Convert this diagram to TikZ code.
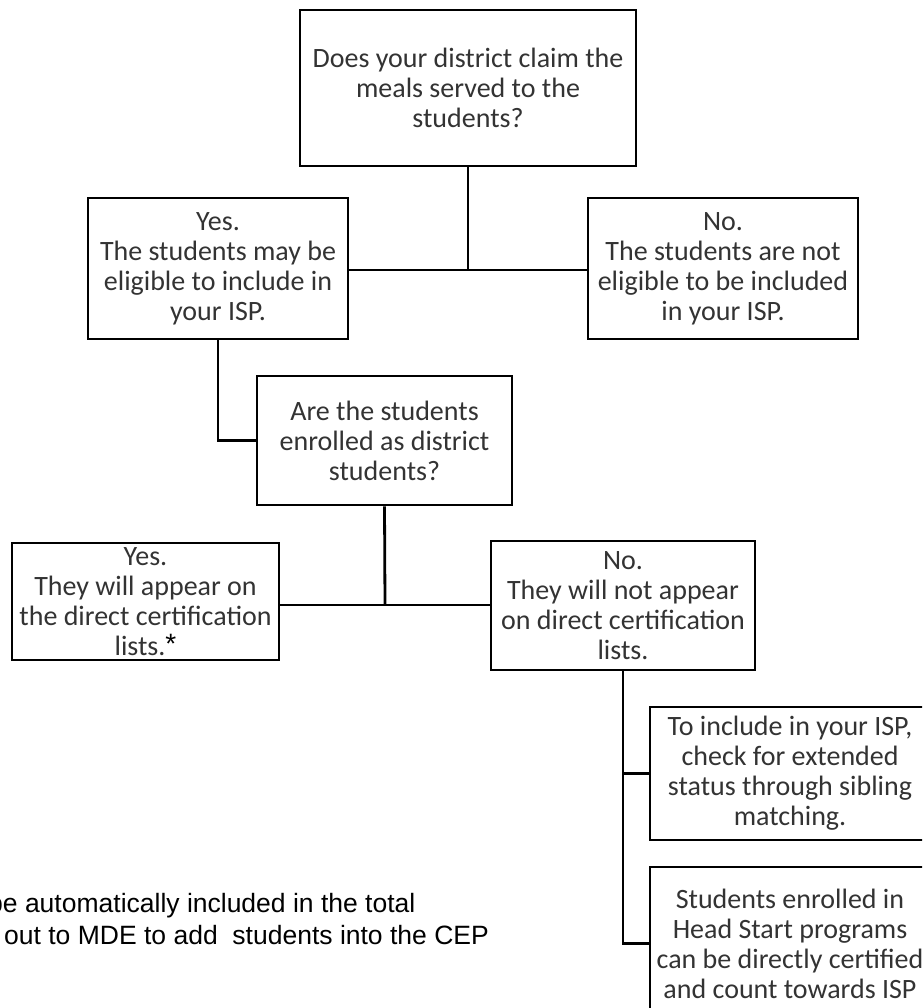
\documentclass[tikz,border=0pt]{standalone}
\usepackage{fontspec}
\setmainfont{Carlito}
\newfontfamily\arialfont{Liberation Sans}
\usepackage{xcolor}
\usetikzlibrary{positioning, calc}
\definecolor{boxtext}{HTML}{333333}

\begin{document}
\begin{tikzpicture}[x=1pt, y=-1pt,
  box/.style={draw=black, line width=2.8pt, fill=white, inner sep=0pt,
    align=center, text=boxtext, font=\fontsize{28}{30}\selectfont},
  link/.style={draw=black, line width=2.8pt},
  note/.style={font=\arialfont\fontsize{26.5}{32}\selectfont, inner sep=0pt, anchor=base west}]
  % page frame (the right and lower boxes run off the page)
  \useasboundingbox (0,0) rectangle (922,1008);
  \clip (0,0) rectangle (922,1008);
  % Decision boxes
  \node[box, minimum width=336, minimum height=156] (q1) at (468,88)
    {Does your district claim the\\meals served to the\\students?};
  \node[box, minimum width=260, minimum height=141] (yes1) at (218,268.5)
    {Yes.\\The students may be\\eligible to include in\\your ISP.};
  \node[box, minimum width=270, minimum height=141] (no1) at (723,268.5)
    {No.\\The students are not\\eligible to be included\\in your ISP.};
  \node[box, minimum width=255, minimum height=129] (q2) at (384.5,440.5)
    {Are the students\\enrolled as district\\students?};
  \node[box, minimum width=267, minimum height=117] (yes2) at (145.5,601.5)
    {Yes.\\They will appear on\\the direct certification\\lists.\raisebox{2pt}{\arialfont\color{black}*}};
  \node[box, minimum width=264, minimum height=129] (no2) at (623,605.5)
    {No.\\They will not appear\\on direct certification\\lists.};
  \node[box, minimum width=280, minimum height=133] (sib) at (790,773.5)
    {To include in your ISP,\\check for extended\\status through sibling\\matching.};
  \node[box, minimum width=280, minimum height=153] (hs) at (790,943.5)
    {Students enrolled in\\Head Start programs\\can be directly certified\\and count towards ISP};
  % Joints
  \coordinate (j1) at (468,270);
  \coordinate (j2) at (385,605);
  % Connectors
  \draw[link] (q1.south) -- (j1);
  \draw[link] (yes1.east |- j1) -- (no1.west |- j1);
  \draw[link] (yes1.south) |- (q2.west);
  \draw[link] (q2.south) -- (j2);
  \draw[link] (yes2.east |- j2) -- (no2.west |- j2);
  \draw[link] (no2.south) |- (hs.west);
  \draw[link] (no2.south |- sib.west) -- (sib.west);
  % Footnote (cut at the left edge)
  \node[note] (note1) at (-12,912) {be automatically included in the total};
  \node[note] (note2) at (4,944) {out to MDE to add\ \ students into the CEP};
\end{tikzpicture}
\end{document}
